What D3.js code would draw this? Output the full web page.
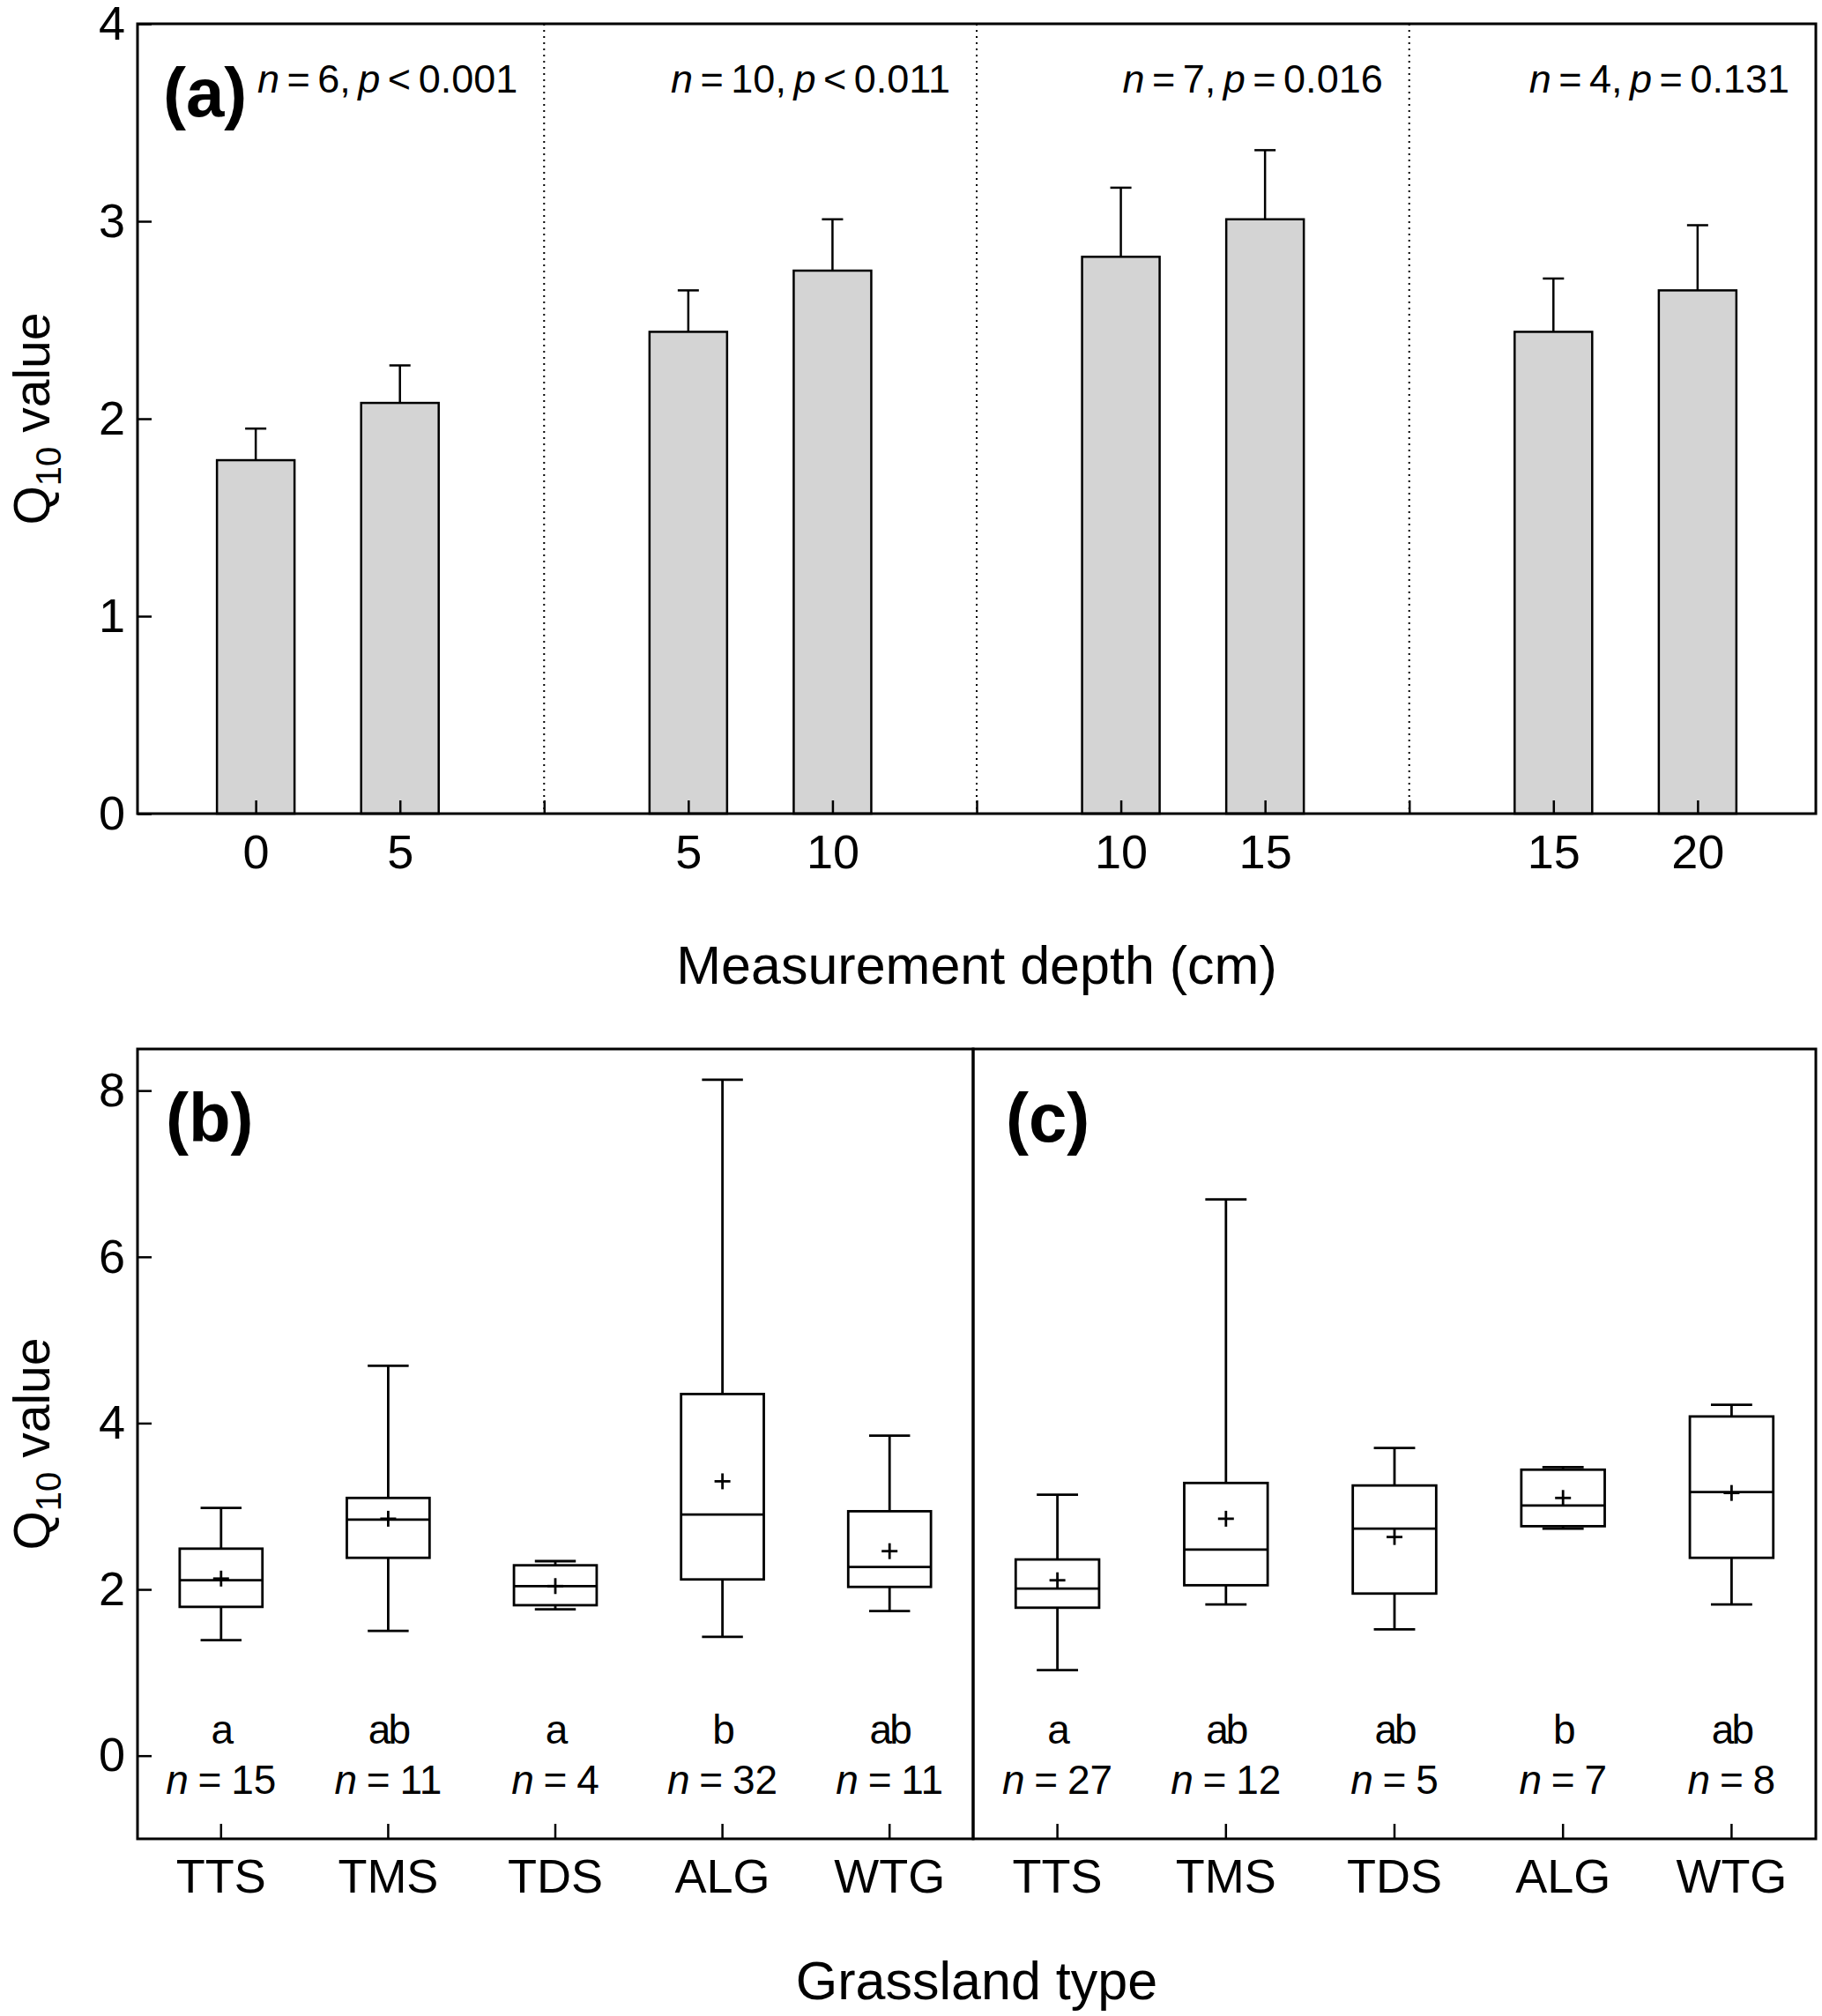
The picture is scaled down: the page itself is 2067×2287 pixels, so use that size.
<!DOCTYPE html>
<html>
<head>
<meta charset="utf-8">
<script src="https://cdn.jsdelivr.net/npm/d3@7"></script>
<style>
    body { margin: 0; background: #fff; }
    svg text { font-family: "Liberation Sans", Arial, sans-serif; fill: #000; }
</style>
</head>
<body>
<div id="chart"></div>
<script>
// Panel (a): Q10 by measurement depth, in pairs
const depthGroups = [[0, 5], [5, 10], [10, 15], [15, 20]];
const groupN = [6, 10, 7, 4];
const groupP = ['< 0.001', '< 0.011', '= 0.016', '= 0.131'];
const meanQ10 = [1.79, 2.08, 2.44, 2.75, 2.82, 3.01, 2.44, 2.65];
const errQ10 = [0.16, 0.19, 0.21, 0.26, 0.35, 0.35, 0.27, 0.33];
const yTicksA = [0, 1, 2, 3, 4];

// Panels (b) and (c): Q10 by grassland type
const grassTypes = ['TTS', 'TMS', 'TDS', 'ALG', 'WTG'];
// [min, q1, median, q3, max, mean]
const statsB = [
    [1.39, 1.79, 2.11, 2.49, 2.98, 2.13],
    [1.50, 2.38, 2.84, 3.10, 4.69, 2.85],
    [1.76, 1.81, 2.04, 2.29, 2.34, 2.04],
    [1.43, 2.12, 2.90, 4.35, 8.13, 3.30],
    [1.74, 2.03, 2.27, 2.94, 3.85, 2.46]
];
const lettersB = ['a', 'ab', 'a', 'b', 'ab'];
const nB = [15, 11, 4, 32, 11];
const statsC = [
    [1.03, 1.78, 2.01, 2.36, 3.14, 2.11],
    [1.82, 2.05, 2.48, 3.28, 6.69, 2.85],
    [1.52, 1.95, 2.73, 3.25, 3.70, 2.63],
    [2.73, 2.76, 3.01, 3.44, 3.47, 3.10],
    [1.82, 2.38, 3.17, 4.08, 4.22, 3.16]
];
const lettersC = ['a', 'ab', 'ab', 'b', 'ab'];
const nC = [27, 12, 5, 7, 8];
const yTicksB = [0, 2, 4, 6, 8];

const W = 2067, H = 2287;
const LEFT = 156, RIGHT = 2060, MID = 1104;
const A_TOP = 27, A_BOTTOM = 923;
const B_TOP = 1190, B_BOTTOM = 2086;

const svg = d3.select('#chart').append('svg')
    .attr('width', W)
    .attr('height', H);

// ---------- panel (a) ----------
const xA = d3.scaleLinear().domain([-0.82, 10.82]).range([LEFT, RIGHT]);
const yA = d3.scaleLinear().domain([0, 4]).range([A_BOTTOM, A_TOP]);

const bars = meanQ10.map((m, i) => ({
    slot: Math.floor(i / 2) * 3 + (i % 2),
    mean: m,
    err: errQ10[i]
}));
const barW = 88;

// group dividers
[2, 5, 8].forEach(s => {
    svg.append('line')
        .attr('x1', xA(s)).attr('x2', xA(s))
        .attr('y1', A_TOP).attr('y2', A_BOTTOM)
        .attr('stroke', '#000')
        .attr('stroke-width', 2)
        .attr('stroke-dasharray', '2,5');
});

const barG = svg.append('g');
barG.selectAll('line.err')
    .data(bars).enter().append('line')
    .attr('class', 'err')
    .attr('x1', d => xA(d.slot)).attr('x2', d => xA(d.slot))
    .attr('y1', d => yA(d.mean)).attr('y2', d => yA(d.mean + d.err))
    .attr('stroke', '#000').attr('stroke-width', 2.5);
barG.selectAll('line.cap')
    .data(bars).enter().append('line')
    .attr('class', 'cap')
    .attr('x1', d => xA(d.slot) - 12).attr('x2', d => xA(d.slot) + 12)
    .attr('y1', d => yA(d.mean + d.err)).attr('y2', d => yA(d.mean + d.err))
    .attr('stroke', '#000').attr('stroke-width', 2.5);
barG.selectAll('rect')
    .data(bars).enter().append('rect')
    .attr('x', d => xA(d.slot) - barW / 2)
    .attr('y', d => yA(d.mean))
    .attr('width', barW)
    .attr('height', d => yA(0) - yA(d.mean))
    .attr('fill', '#d4d4d4')
    .attr('stroke', '#000')
    .attr('stroke-width', 2.5);

// axes
svg.append('g')
    .attr('transform', `translate(0,${A_BOTTOM})`)
    .call(d3.axisBottom(xA)
        .tickValues(d3.range(0, 11))
        .tickSize(-15)
        .tickPadding(24)
        .tickFormat(s => s % 3 === 2 ? '' : depthGroups[Math.floor(s / 3)][s % 3]));

svg.append('g')
    .attr('transform', `translate(${LEFT},0)`)
    .call(d3.axisLeft(yA).tickValues(yTicksA).tickFormat(d3.format('d'))
        .tickSize(-16).tickPadding(14));

// group statistics
depthGroups.forEach((g, i) => {
    const t = svg.append('text')
        .attr('x', Math.min(xA(i * 3 + 2), RIGHT) - 30)
        .attr('y', 105)
        .attr('text-anchor', 'end')
        .style('font-size', '45px')
        .style('word-spacing', '-4px');
    t.append('tspan').style('font-style', 'italic').text('n');
    t.append('tspan').text(` = ${groupN[i]}, `);
    t.append('tspan').style('font-style', 'italic').text('p');
    t.append('tspan').text(` ${groupP[i]}`);
});

svg.append('rect')
    .attr('x', LEFT).attr('y', A_TOP)
    .attr('width', RIGHT - LEFT).attr('height', A_BOTTOM - A_TOP)
    .attr('fill', 'none').attr('stroke', '#000').attr('stroke-width', 3);

svg.append('text')
    .attr('x', 185).attr('y', 132)
    .style('font-size', '78px').style('font-weight', 'bold')
    .text('(a)');

svg.append('text')
    .attr('x', (LEFT + RIGHT) / 2).attr('y', 1116)
    .attr('text-anchor', 'middle')
    .style('font-size', '61px')
    .text('Measurement depth (cm)');

// ---------- panels (b) and (c) ----------
const yB = d3.scaleLinear().domain([-1, 8.5]).range([B_BOTTOM, B_TOP]);

function drawBoxes(x0, x1, stats, letters, ns, tag) {
    const x = d3.scaleBand().domain(grassTypes).range([x0, x1]);
    const bw = x.bandwidth() * 0.495;
    const capW = x.bandwidth() * 0.245;
    const rows = stats.map((s, i) => ({
        type: grassTypes[i], min: s[0], q1: s[1], med: s[2], q3: s[3], max: s[4], mean: s[5],
        letter: letters[i], n: ns[i]
    }));
    const cx = d => x(d.type) + x.bandwidth() / 2;

    const g = svg.append('g');
    const box = g.selectAll('g.box').data(rows).enter().append('g').attr('class', 'box');

    // whiskers
    box.append('line')
        .attr('x1', cx).attr('x2', cx)
        .attr('y1', d => yB(d.q3)).attr('y2', d => yB(d.max));
    box.append('line')
        .attr('x1', cx).attr('x2', cx)
        .attr('y1', d => yB(d.q1)).attr('y2', d => yB(d.min));
    box.append('line')
        .attr('x1', d => cx(d) - capW / 2).attr('x2', d => cx(d) + capW / 2)
        .attr('y1', d => yB(d.max)).attr('y2', d => yB(d.max));
    box.append('line')
        .attr('x1', d => cx(d) - capW / 2).attr('x2', d => cx(d) + capW / 2)
        .attr('y1', d => yB(d.min)).attr('y2', d => yB(d.min));
    box.append('rect')
        .attr('x', d => cx(d) - bw / 2)
        .attr('y', d => yB(d.q3))
        .attr('width', bw)
        .attr('height', d => yB(d.q1) - yB(d.q3))
        .attr('fill', '#fff');
    box.append('line')
        .attr('x1', d => cx(d) - bw / 2).attr('x2', d => cx(d) + bw / 2)
        .attr('y1', d => yB(d.med)).attr('y2', d => yB(d.med));
    // mean marker
    box.append('line')
        .attr('x1', d => cx(d) - 9).attr('x2', d => cx(d) + 9)
        .attr('y1', d => yB(d.mean)).attr('y2', d => yB(d.mean));
    box.append('line')
        .attr('x1', cx).attr('x2', cx)
        .attr('y1', d => yB(d.mean) - 9).attr('y2', d => yB(d.mean) + 9);
    box.selectAll('line, rect').attr('stroke', '#000').attr('stroke-width', 2.8);

    // letters and sample sizes
    box.append('text')
        .attr('x', cx).attr('y', yB(0) - 14)
        .attr('text-anchor', 'middle')
        .style('font-size', '46px')
        .style('letter-spacing', '-3px')
        .text(d => d.letter);
    const nt = box.append('text')
        .attr('x', cx).attr('y', yB(0) + 43)
        .attr('text-anchor', 'middle')
        .style('font-size', '46px')
        .style('word-spacing', '-2px');
    nt.append('tspan').style('font-style', 'italic').text('n');
    nt.append('tspan').text(d => ` = ${d.n}`);

    svg.append('g')
        .attr('transform', `translate(0,${B_BOTTOM})`)
        .call(d3.axisBottom(x).tickSize(-17).tickPadding(23));

    svg.append('rect')
        .attr('x', x0).attr('y', B_TOP)
        .attr('width', x1 - x0).attr('height', B_BOTTOM - B_TOP)
        .attr('fill', 'none').attr('stroke', '#000').attr('stroke-width', 3);

    svg.append('text')
        .attr('x', x0 + (tag === '(b)' ? 32 : 37)).attr('y', 1295)
        .style('font-size', '78px').style('font-weight', 'bold')
        .text(tag);
}

drawBoxes(LEFT, MID, statsB, lettersB, nB, '(b)');
drawBoxes(MID, RIGHT, statsC, lettersC, nC, '(c)');

svg.append('g')
    .attr('transform', `translate(${LEFT},0)`)
    .call(d3.axisLeft(yB).tickValues(yTicksB).tickSize(-16).tickPadding(14));

svg.append('text')
    .attr('x', (LEFT + RIGHT) / 2).attr('y', 2268)
    .attr('text-anchor', 'middle')
    .style('font-size', '61px')
    .text('Grassland type');

// y titles
[(A_TOP + A_BOTTOM) / 2, (B_TOP + B_BOTTOM) / 2].forEach(cy => {
    const t = svg.append('text')
        .attr('transform', `translate(56,${cy}) rotate(-90)`)
        .attr('text-anchor', 'middle')
        .style('font-size', '57px');
    t.append('tspan').text('Q');
    t.append('tspan').attr('dy', 13).style('font-size', '40px').text('10');
    t.append('tspan').attr('dy', -13).text(' value');
});

// axis styling
svg.selectAll('.domain').remove();
svg.selectAll('.tick line').attr('stroke', '#000').attr('stroke-width', 2.5);
svg.selectAll('.tick text').style('font-size', '54px').attr('fill', '#000');
</script>
</body>
</html>
